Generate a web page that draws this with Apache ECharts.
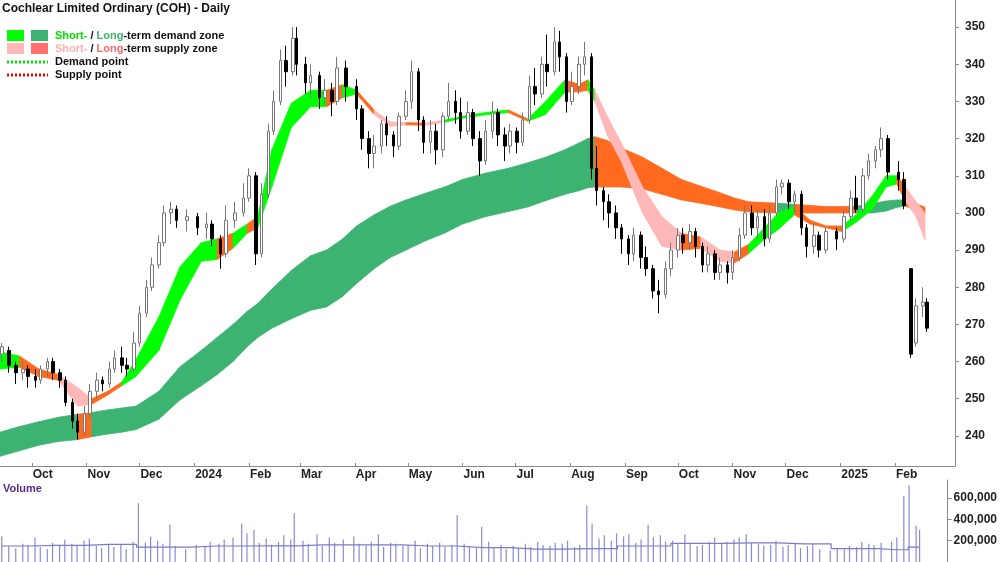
<!DOCTYPE html>
<html>
<head>
<meta charset="utf-8">
<script src="https://cdn.jsdelivr.net/npm/echarts@6/dist/echarts.min.js"></script>
<style>html,body{margin:0;padding:0;background:#fff}#chart{width:1000px;height:562px}</style>
</head>
<body>
<div id="chart"></div>
<script>
// candle dates and [open, close, low, high]
var candleDates = [
  '2023-09-14','2023-09-18','2023-09-22','2023-09-26','2023-09-29',
  '2023-10-03','2023-10-06','2023-10-10','2023-10-13','2023-10-17','2023-10-20','2023-10-24','2023-10-27','2023-10-31',
  '2023-11-03','2023-11-07','2023-11-10','2023-11-14','2023-11-17','2023-11-21','2023-11-24','2023-11-28',
  '2023-12-01','2023-12-05','2023-12-08','2023-12-12','2023-12-15','2023-12-19','2023-12-22','2023-12-28',
  '2024-01-03','2024-01-08','2024-01-11','2024-01-16','2024-01-19','2024-01-24','2024-01-29',
  '2024-02-01','2024-02-05','2024-02-08','2024-02-12','2024-02-15','2024-02-19','2024-02-22','2024-02-26','2024-02-28',
  '2024-03-04','2024-03-07','2024-03-12','2024-03-15','2024-03-19','2024-03-22','2024-03-27',
  '2024-04-02','2024-04-05','2024-04-09','2024-04-12','2024-04-16','2024-04-19','2024-04-23','2024-04-26','2024-04-30',
  '2024-05-03','2024-05-07','2024-05-10','2024-05-14','2024-05-17','2024-05-21','2024-05-24','2024-05-28','2024-05-31',
  '2024-06-04','2024-06-07','2024-06-11','2024-06-14','2024-06-18','2024-06-21','2024-06-25','2024-06-28',
  '2024-07-02','2024-07-05','2024-07-09','2024-07-12','2024-07-16','2024-07-19','2024-07-23','2024-07-26','2024-07-30',
  '2024-08-02','2024-08-06','2024-08-09','2024-08-13','2024-08-16','2024-08-20','2024-08-23','2024-08-27','2024-08-30',
  '2024-09-03','2024-09-06','2024-09-10','2024-09-13','2024-09-17','2024-09-20','2024-09-24','2024-09-27',
  '2024-10-01','2024-10-04','2024-10-08','2024-10-11','2024-10-15','2024-10-18','2024-10-22','2024-10-25','2024-10-29',
  '2024-11-01','2024-11-05','2024-11-08','2024-11-12','2024-11-15','2024-11-19','2024-11-22','2024-11-26','2024-11-29',
  '2024-12-03','2024-12-06','2024-12-10','2024-12-13','2024-12-17','2024-12-20','2024-12-24','2024-12-30',
  '2025-01-03','2025-01-07','2025-01-10','2025-01-14','2025-01-17','2025-01-21','2025-01-24','2025-01-28',
  '2025-02-03','2025-02-06','2025-02-10','2025-02-13','2025-02-17','2025-02-19'
];
var prices = [
  [262,264,260,265],[263,259,257,264],[259,257,254,260],[257,258,255,260],[258,256,253,259],
  [256,255,253,258],[255,258,254,259],[258,260,256,261],[260,257,255,261],[257,255,253,258],[255,249,248,256],[249,244,242,250],[244,241,239,246],[241,246,240,248],
  [246,252,245,254],[252,255,250,257],[255,254,252,256],[254,258,253,260],[258,261,257,263],[261,259,257,264],[259,258,256,261],[258,265,257,268],
  [265,273,264,275],[273,280,272,282],[280,286,279,288],[286,292,285,294],[292,300,291,302],[300,301,297,303],[301,298,296,302],[298,299,295,301],
  [299,296,294,300],[296,297,293,300],[297,293,291,298],[293,289,285,294],[289,298,288,302],[298,300,296,303],[300,304,299,308],
  [304,310,303,312],[310,289,286,311],[289,305,288,308],[305,322,304,324],[322,330,321,333],[330,341,329,344],[341,338,334,345],[338,347,337,350],[347,340,337,350],
  [340,335,332,342],[335,337,331,340],[337,331,328,338],[331,333,329,336],[333,330,326,335],[330,339,329,342],[339,334,330,341],
  [334,328,325,336],[328,320,317,329],[320,316,312,322],[316,318,312,321],[318,324,316,325],[324,321,318,326],[321,318,315,322],[318,326,317,327],[326,330,325,333],
  [330,338,328,341],[338,325,322,339],[325,319,316,326],[319,322,316,325],[322,317,313,324],[317,326,315,327],[326,330,325,335],[330,327,324,333],[327,322,320,331],
  [322,327,321,330],[327,320,318,328],[320,314,310,322],[314,322,313,325],[322,327,320,330],[327,321,318,328],[321,318,314,323],[318,322,316,324],
  [322,319,316,323],[319,325,318,327],[325,334,324,337],[334,332,329,339],[332,340,331,342],[340,338,334,348],[338,346,337,350],[346,342,338,349],[342,330,327,343],
  [330,334,329,338],[334,340,332,342],[340,342,337,346],[342,312,309,343],[312,306,302,318],[306,303,298,307],[303,300,296,305],[300,296,293,302],[296,293,289,297],
  [293,289,286,294],[289,294,287,296],[294,288,285,295],[288,285,283,291],[285,279,277,286],[279,278,273,282],[278,285,277,287],[285,290,283,292],
  [290,294,288,296],[294,292,289,296],[292,295,290,297],[295,291,288,296],[291,286,284,292],[286,289,284,291],[289,284,282,290],[284,286,282,288],[286,284,281,287],
  [284,288,282,290],[288,294,287,296],[294,300,293,302],[300,296,294,302],[296,299,293,301],[299,293,291,301],[293,300,292,302],[300,307,299,309],[307,308,305,309],
  [308,303,301,309],[303,305,300,306],[305,296,294,306],[296,291,288,297],[291,294,289,297],[294,290,288,295],[290,295,289,296],[295,293,290,296],
  [293,299,292,301],[299,304,298,306],[304,301,300,310],[301,310,300,312],[310,314,309,316],[314,317,312,318],[317,320,315,323],[320,311,309,321],
  [311,309,306,314],[309,302,301,311],[285,262,261,285],[265,275,264,277],[275,276,272,280],[276,269,268,277]
];
// volume in thousands of shares
var volumes = [
  240,150,130,170,160,
  230,140,120,180,150,210,170,160,200,
  220,150,130,170,140,160,120,190,
  550,180,240,200,170,350,150,120,
  160,140,190,170,210,230,360,
  270,300,180,220,160,190,250,210,460,
  200,170,260,150,230,180,210,
  240,170,150,190,260,140,180,170,150,
  160,200,130,170,150,180,140,160,440,
  170,150,130,330,190,140,160,120,
  150,130,170,140,190,160,150,180,170,
  200,140,160,530,360,220,250,200,270,
  240,260,180,210,350,230,250,190,
  200,170,260,180,150,160,190,230,170,
  190,210,230,260,180,170,150,160,200,
  140,160,180,130,150,170,120,110,
  130,120,150,140,190,170,160,180,
  190,230,620,720,340,300
];
var volAvgDates = ['2023-09-14','2023-10-15','2023-11-15','2023-12-15','2024-01-15','2024-02-15','2024-03-15','2024-04-15','2024-05-15','2024-06-15','2024-07-15','2024-08-15','2024-09-15','2024-10-15','2024-11-15','2024-12-15','2025-01-15','2025-02-06','2025-02-19'];
var volAvg = [150,155,165,140,150,152,160,160,150,135,120,125,150,175,180,170,125,115,140];

// zone bands (d = demand, s = short-term supply, o = supply, orange)
var bandDates = [
  '2023-09-13','2023-09-24','2023-10-05','2023-10-16','2023-10-27','2023-11-04','2023-11-13','2023-11-21','2023-11-29',
  '2023-12-12','2023-12-24','2024-01-05','2024-01-14','2024-01-23','2024-01-31','2024-02-06','2024-02-14','2024-02-25',
  '2024-03-07','2024-03-16','2024-03-25','2024-04-02','2024-04-12','2024-04-21','2024-04-30','2024-05-11','2024-05-22',
  '2024-06-01','2024-06-14','2024-06-27','2024-07-08','2024-07-18','2024-07-29','2024-08-06','2024-08-11','2024-08-15',
  '2024-08-22','2024-08-30','2024-09-11','2024-09-22','2024-10-03','2024-10-14','2024-10-25','2024-11-02','2024-11-10',
  '2024-11-18','2024-11-27','2024-12-06','2024-12-15','2024-12-24','2025-01-02','2025-01-10','2025-01-19','2025-01-27',
  '2025-02-02','2025-02-07','2025-02-13','2025-02-18'
];
var shortHi = [262.6,261.5,258,256.5,253,250,252,254.5,260.5,272,285.5,292,293,294.5,297,299,317,329.5,
  333,333,334.5,333,327.7,324.5,324.3,324.2,325,326,327,327.7,325.3,330,335.8,334.6,335.8,333,
  326,318.8,307,299,294.5,293.5,290,289.5,291.5,295.5,300,301.7,298,296.5,296.5,299.5,304.5,310,310,307,303,300];
var shortLo = [258,258.5,256,255,248,248.5,251,253.5,256,263,276.6,287,287.5,290.5,294.5,296,307,323,
  328.6,328.6,331,332,326.5,323.3,323.7,323.6,324.4,325.5,326.4,327,324.7,326.5,332.5,332.6,333,330,
  321,313.8,300,291,290,290.5,287,286.5,289,292.5,295.6,299.5,297,296,295,297.5,300.9,307,307.8,303,299,292.7];
var shortZone = ['d','o','o','s','s','o','o','d','d','d','d','d','o','d','o','d','d','d','d','o','d','o','s','s','o','s','d','d','d','o',
  'd','d','o','o','d','s','s','s','s','s','o','s','s','o','d','d','d','o','o','o','d','d','d','d','o','s','s','s'];
var longHi = [241,242.5,243.8,245,245.8,246.3,247,247.5,248,252,258.6,263,266.5,270,273.5,275.6,279.5,284.5,
  288.5,290,293,296.5,299.5,301.8,303.5,305.3,307,309,310.7,312,313.5,315,317,318.8,320,320.5,
  319.5,317.5,315,312,309,307.2,305.4,304,303,302.8,302.6,302.3,302,301.7,301.7,301.8,302.5,303.2,303.5,303.5,302.5,301.5];
var longLo = [234.5,236,237.5,238.5,239,239.8,240.5,241,241.7,244.5,249.7,253.5,256.5,260,264,266.5,269,271.5,
  273.8,274.7,277.5,281,285,288,290,292.5,294.6,297,299,300.4,301.6,303.3,305,306,306.8,307,
  307,307,306.5,305,303.5,302.6,301.6,300.8,300.3,300.1,300,300,300,300,300,300,300,300.5,301.5,301.8,300.8,299.5];
var longZone = ('dddd' + 'o' + 'd'.repeat(30) + 'o'.repeat(11) + 'd' + 'oooo' + 'dddd' + 'ooo').split('');

var priceTicks = [240,250,260,270,280,290,300,310,320,330,340,350];
var volTicks = [200000,400000,600000];
var monthNames = ['Jan','Feb','Mar','Apr','May','Jun','Jul','Aug','Sep','Oct','Nov','Dec'];

function ts(s) { return new Date(s).getTime(); }
var monthStarts = [];
for (var y = 2023, m = 9; y < 2025 || m <= 1; ) {
  monthStarts.push(Date.UTC(y, m, 1));
  m++; if (m > 11) { m = 0; y++; }
}

var shortColors = { d: '#00ff00', s: '#ffb8b8', o: '#ff6a1f' };
var longColors = { d: '#3cb371', o: '#ff6a1f' };

function bandItems(hi, lo, zone) {
  var items = [];
  for (var i = 0; i < bandDates.length - 1; i++) {
    items.push([ts(bandDates[i]), lo[i], hi[i], ts(bandDates[i + 1]), lo[i + 1], hi[i + 1], zone[i]]);
  }
  return items;
}
function bandSeries(items, colors) {
  return {
    type: 'custom', xAxisIndex: 0, yAxisIndex: 0, silent: true, clip: true,
    renderItem: function (params, api) {
      var a = api.coord([api.value(0), api.value(2)]);
      var b = api.coord([api.value(3), api.value(5)]);
      var c = api.coord([api.value(3), api.value(4)]);
      var d = api.coord([api.value(0), api.value(1)]);
      var col = colors[items[params.dataIndex][6]];
      return { type: 'polygon', shape: { points: [a, b, c, d] }, style: { fill: col, stroke: col, lineWidth: 0.8 } };
    },
    encode: { x: [0, 3], y: [1, 2, 4, 5] },
    data: items
  };
}

var candleData = candleDates.map(function (d, i) { return [ts(d)].concat(prices[i]); });
var volData = candleDates.map(function (d, i) { return [ts(d), volumes[i] * 1000]; });
var avgData = volAvgDates.map(function (d, i) { return [ts(d), volAvg[i] * 1000]; });

var xMin = ts('2023-09-13'), xMax = ts('2025-03-07');
var fontFam = 'Liberation Sans Narrow, Liberation Sans';
var lab = { fontFamily: fontFam, fontWeight: 'bold', fontSize: 12, color: '#222' };

var chart = echarts.init(document.getElementById('chart'));
chart.setOption({
  animation: false,
  grid: [
    { left: 0, right: 45, top: 0, height: 466 },
    { left: 0, right: 45, top: 480, height: 82 }
  ],
  xAxis: [
    { type: 'value', gridIndex: 0, min: xMin, max: xMax,
      axisLine: { lineStyle: { color: '#888' } },
      axisTick: { show: true, inside: true, length: 3, customValues: monthStarts, lineStyle: { color: '#888' } },
      axisLabel: Object.assign({ customValues: monthStarts, align: 'left', margin: 3, padding: [0, 0, 0, 1],
        formatter: function (v) { var dt = new Date(v); return dt.getUTCMonth() === 0 ? String(dt.getUTCFullYear()) : monthNames[dt.getUTCMonth()]; } }, lab),
      splitLine: { show: false } },
    { type: 'value', gridIndex: 1, min: xMin, max: xMax, position: 'top',
      axisLine: { lineStyle: { color: '#888' } }, axisTick: { show: false }, axisLabel: { show: false }, splitLine: { show: false } }
  ],
  yAxis: [
    { type: 'value', gridIndex: 0, position: 'right', min: 231.9, max: 357.3,
      axisLine: { show: true, lineStyle: { color: '#888' } },
      axisTick: { show: true, customValues: priceTicks, length: 4, lineStyle: { color: '#888' } },
      axisLabel: Object.assign({ customValues: priceTicks, margin: 10 }, lab),
      splitLine: { show: false } },
    { type: 'value', gridIndex: 1, position: 'right', min: 0, max: 769000,
      axisLine: { show: true, lineStyle: { color: '#888' } },
      axisTick: { show: true, customValues: volTicks, length: 4, lineStyle: { color: '#888' } },
      axisLabel: Object.assign({ customValues: volTicks, margin: 6,
        formatter: function (v) { return v.toLocaleString('en-US'); } }, lab),
      splitLine: { show: false } }
  ],
  series: [
    bandSeries(bandItems(longHi, longLo, longZone), longColors),
    bandSeries(bandItems(shortHi, shortLo, shortZone), shortColors),
    { type: 'candlestick', xAxisIndex: 0, yAxisIndex: 0, data: candleData, barWidth: 3,
      itemStyle: { color: '#ffffff', borderColor: '#777', color0: '#000', borderColor0: '#000', borderWidth: 1 } },
    { type: 'bar', xAxisIndex: 1, yAxisIndex: 1, data: volData, barWidth: 1.2,
      itemStyle: { color: '#8a8ad6' } },
    { type: 'line', xAxisIndex: 1, yAxisIndex: 1, data: avgData, showSymbol: false, step: 'middle',
      lineStyle: { color: '#7b7bc8', width: 1.2 } }
  ],
  graphic: [
    { type: 'text', left: 2, top: 3, style: { text: 'Cochlear Limited Ordinary (COH) - Daily', font: 'bold 12px ' + fontFam, fill: '#111' } },
    { type: 'rect', shape: { x: 7, y: 30, width: 17, height: 11 }, style: { fill: '#00ff00' } },
    { type: 'rect', shape: { x: 31, y: 30, width: 17, height: 11 }, style: { fill: '#3cb371' } },
    { type: 'rect', shape: { x: 7, y: 43, width: 17, height: 11 }, style: { fill: '#ffb8b8' } },
    { type: 'rect', shape: { x: 31, y: 43, width: 17, height: 11 }, style: { fill: '#ff7070' } },
    { type: 'line', shape: { x1: 7, y1: 62, x2: 48, y2: 62 }, style: { stroke: '#00dd00', lineWidth: 3, lineDash: [2, 2] } },
    { type: 'line', shape: { x1: 7, y1: 75, x2: 48, y2: 75 }, style: { stroke: '#ee0000', lineWidth: 3, lineDash: [2, 2] } },
    { type: 'text', left: 55, top: 30, style: { rich: { g: { fill: '#00e000' }, l: { fill: '#3cb371' }, k: { fill: '#111' } },
      text: '{g|Short-}{k| / }{l|Long}{k|-term demand zone}', font: 'bold 11px ' + fontFam } },
    { type: 'text', left: 55, top: 43, style: { rich: { g: { fill: '#ffb0b0' }, l: { fill: '#ff6a6a' }, k: { fill: '#111' } },
      text: '{g|Short-}{k| / }{l|Long}{k|-term supply zone}', font: 'bold 11px ' + fontFam } },
    { type: 'text', left: 55, top: 56, style: { text: 'Demand point', font: 'bold 11px ' + fontFam, fill: '#111' } },
    { type: 'text', left: 55, top: 69, style: { text: 'Supply point', font: 'bold 11px ' + fontFam, fill: '#111' } },
    { type: 'text', left: 3, top: 483, style: { text: 'Volume', font: 'bold 11px ' + fontFam, fill: '#5a2a8a' } }
  ]
});
</script>
</body>
</html>
